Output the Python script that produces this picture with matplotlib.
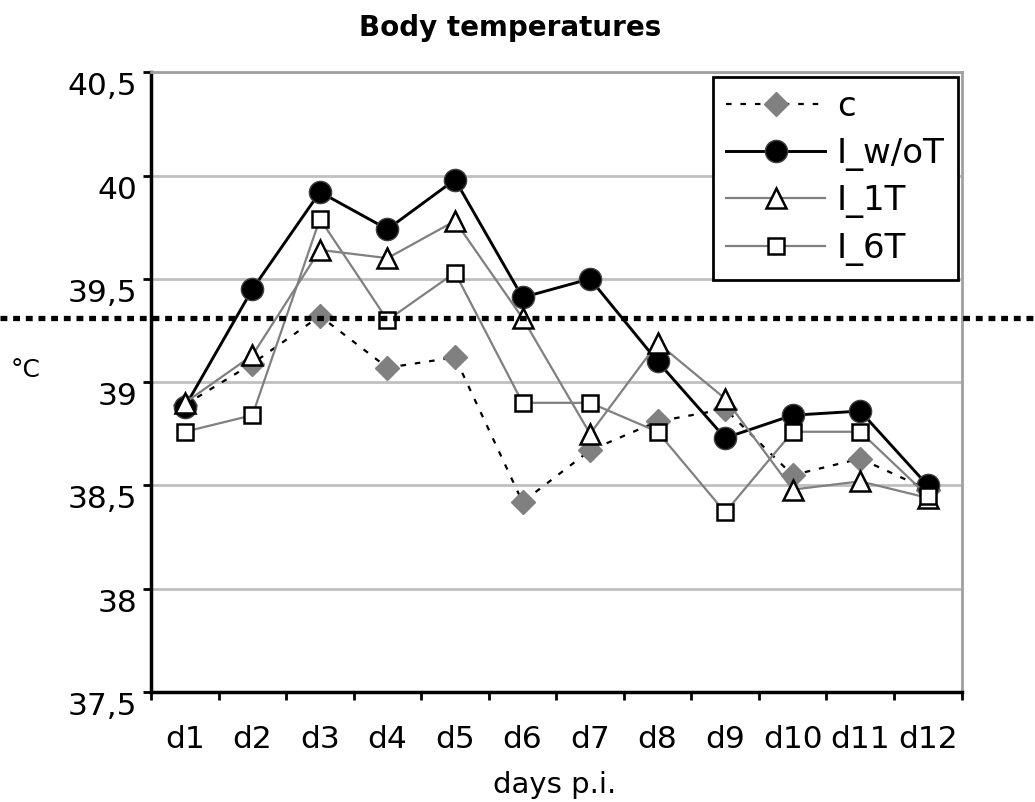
import matplotlib.pyplot as plt
from matplotlib.transforms import blended_transform_factory
import numpy as np

# data
days = ['d1', 'd2', 'd3', 'd4', 'd5', 'd6', 'd7', 'd8', 'd9', 'd10', 'd11', 'd12']
c = [38.89, 39.09, 39.32, 39.07, 39.12, 38.42, 38.67, 38.81, 38.87, 38.55, 38.63, 38.48]
i_wot = [38.88, 39.45, 39.92, 39.74, 39.98, 39.41, 39.50, 39.10, 38.73, 38.84, 38.86, 38.50]
i_1t = [38.90, 39.13, 39.64, 39.60, 39.78, 39.31, 38.75, 39.19, 38.92, 38.48, 38.52, 38.44]
i_6t = [38.76, 38.84, 39.79, 39.30, 39.53, 38.90, 38.90, 38.76, 38.37, 38.76, 38.76, 38.45]
threshold = 39.31
yticks = [37.5, 38, 38.5, 39, 39.5, 40, 40.5]
ytick_labels = ['37,5', '38', '38,5', '39', '39,5', '40', '40,5']

plt.rcParams['font.family'] = ['DejaVu Sans']

fig = plt.figure(figsize=(10.35, 8.02), dpi=100)
ax = fig.add_axes([0.146, 0.137, 0.783, 0.773])

x = np.arange(len(days))
gray = '#808080'

ax.plot(x, c, color='black', lw=1.6, linestyle=(0, (2.5, 4)), marker='D',
        markersize=12, markerfacecolor=gray, markeredgecolor=gray, label='c', zorder=3)
ax.plot(x, i_wot, color='black', lw=2.1, marker='o', markersize=16,
        markerfacecolor='black', markeredgecolor='#404040', markeredgewidth=1,
        label='I_w/oT', zorder=4)
ax.plot(x, i_1t, color=gray, lw=1.6, marker='^', markersize=15,
        markerfacecolor='white', markeredgecolor='black', markeredgewidth=1.8,
        label='I_1T', zorder=5)
ax.plot(x, i_6t, color=gray, lw=1.6, marker='s', markersize=11,
        markerfacecolor='white', markeredgecolor='black', markeredgewidth=1.8,
        label='I_6T', zorder=6)

# threshold line across the whole figure width
trans = blended_transform_factory(fig.transFigure, ax.transData)
ax.plot([0, 1], [threshold, threshold], transform=trans, color='black',
        lw=3.8, linestyle=(0, (1.3, 1.1)), clip_on=False, zorder=7)

ax.set_xlim(-0.5, len(days) - 0.5)
ax.set_ylim(37.5, 40.5)
ax.set_yticks(yticks)
ax.set_yticklabels(ytick_labels, fontsize=22.5)
ax.set_xticks(x)
ax.set_xticklabels(days, fontsize=22.5)
ax.set_xticks(np.arange(-0.5, len(days)), minor=True)
ax.tick_params(axis='x', which='major', length=0, pad=24)
ax.tick_params(axis='x', which='minor', length=6, width=2, direction='out')
ax.tick_params(axis='y', length=6, width=2, direction='out', pad=4)
# y labels sit a bit below their ticks in the original
for lab in ax.get_yticklabels():
    lab.set_verticalalignment('top')

ax.grid(axis='y', color='#c0c0c0', lw=2, zorder=0)
ax.set_axisbelow(True)
ax.spines['left'].set_linewidth(2.5)
ax.spines['bottom'].set_linewidth(2.5)
ax.spines['top'].set_color('#a0a0a0')
ax.spines['right'].set_color('#a0a0a0')
ax.spines['top'].set_linewidth(2)
ax.spines['right'].set_linewidth(2)

leg = ax.legend(loc='upper right', bbox_to_anchor=(0.996, 0.993), fontsize=24.5,
                handlelength=2.9, fancybox=False, framealpha=1, borderpad=0.4,
                labelspacing=0.4, handletextpad=0.35, borderaxespad=0)
leg.get_frame().set_edgecolor('black')
leg.get_frame().set_linewidth(2)

fig.text(0.493, 0.965, 'Body temperatures', ha='center', va='center',
         fontsize=20, fontweight='bold')
fig.text(0.536, 0.021, 'days p.i.', ha='center', va='center', fontsize=21)
fig.text(0.025, 0.539, '°C', ha='center', va='center', fontsize=18)

fig.savefig('out.png', dpi=100)
